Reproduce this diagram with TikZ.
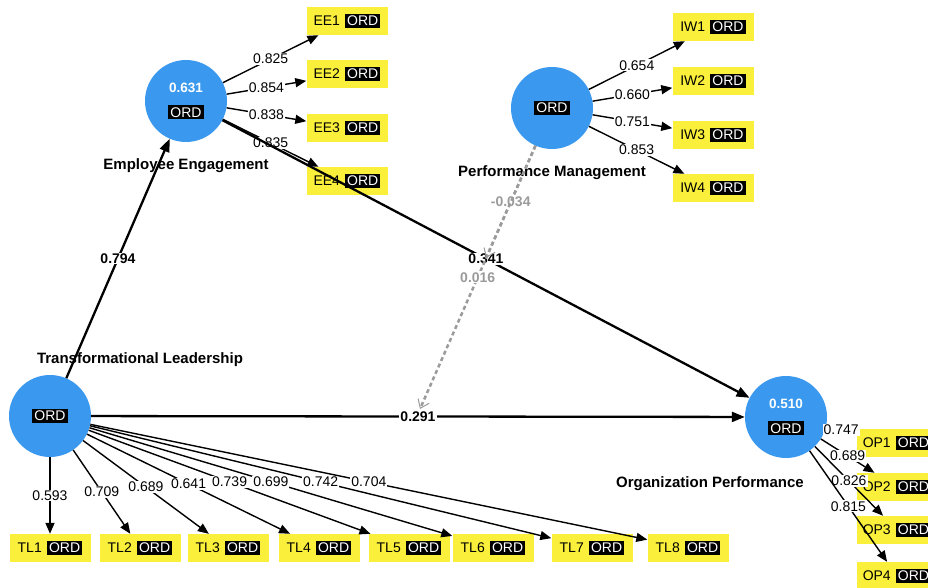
\documentclass[tikz,border=0pt]{standalone}
\usepackage{fontspec}
\setmainfont{Liberation Sans}
\usepackage{xcolor}
\usetikzlibrary{arrows.meta}
\definecolor{plsblue}{RGB}{58, 153, 238}
\definecolor{plsyellow}{RGB}{250, 240, 60}
\definecolor{modgrey}{RGB}{155, 155, 155}
\newcommand{\ordtag}{{\normalfont\fontsize{14}{14}\selectfont\setlength{\fboxsep}{2.2pt}\colorbox{black}{\textcolor{white}{ORD}}}}

\begin{document}
\begin{tikzpicture}[
    x=1pt, y=-1pt,
    font=\fontsize{14}{16}\selectfont,
    construct/.style={circle, fill=plsblue, minimum size=82pt, inner sep=0pt,
        align=center, text=white, font=\fontsize{13.5}{22}\selectfont\bfseries},
    indicator/.style={fill=plsyellow, minimum width=81pt, minimum height=28pt, inner sep=0pt},
    cname/.style={font=\fontsize{15}{17}\selectfont\bfseries},
    struct/.style={line width=2.3pt, -{Triangle[length=13pt, width=10pt]}},
    ind/.style={line width=1.4pt, -{Triangle[length=11pt, width=9pt]}},
    % Style for the dashed moderating effects
    modpath/.style={modgrey, line width=2.5pt, dash pattern=on 4pt off 3pt,
        -{Straight Barb[length=8pt, width=12pt, line width=1pt]}},
    coef/.style={fill=white, inner sep=1pt, font=\fontsize{14}{14}\selectfont\bfseries},
    load/.style={fill=white, inner sep=1pt},
    modcoef/.style={fill=white, inner sep=1pt, text=modgrey, font=\fontsize{14}{14}\selectfont\bfseries}
]
    \clip (0,0) rectangle (928,588);
    \fill[white] (0,0) rectangle (928,588);

    % Constructs
    \node[construct] (ee) at (186,101) {0.631\\[3pt]\ordtag};
    \node[construct] (pm) at (552,108) {\ordtag};
    \node[construct] (tl) at (50,416) {\ordtag};
    \node[construct] (op) at (786,417) {0.510\\[3pt]\ordtag};

    \node[cname] (eename) at (186,166) {Employee Engagement};
    \node[cname] (pmname) at (552,173) {Performance Management};
    \node[cname] (tlname) at (140,360) {Transformational Leadership};
    \node[cname] (opname) at (710,484) {Organization Performance};

    % Indicators
    \node[indicator] (ee1) at (347,21) {EE1\hspace{5pt}\ordtag};
    \node[indicator] (ee2) at (347,74) {EE2\hspace{5pt}\ordtag};
    \node[indicator] (ee3) at (347,128) {EE3\hspace{5pt}\ordtag};
    \node[indicator] (ee4) at (347,181) {EE4\hspace{5pt}\ordtag};

    \node[indicator] (iw1) at (713,27) {IW1\hspace{5pt}\ordtag};
    \node[indicator] (iw2) at (713,81) {IW2\hspace{5pt}\ordtag};
    \node[indicator] (iw3) at (713,135) {IW3\hspace{5pt}\ordtag};
    \node[indicator] (iw4) at (713,188) {IW4\hspace{5pt}\ordtag};

    \node[indicator] (tl1) at (50,548) {TL1\hspace{5pt}\ordtag};
    \node[indicator] (tl2) at (140,548) {TL2\hspace{5pt}\ordtag};
    \node[indicator] (tl3) at (228,548) {TL3\hspace{5pt}\ordtag};
    \node[indicator] (tl4) at (319,548) {TL4\hspace{5pt}\ordtag};
    \node[indicator] (tl5) at (409,548) {TL5\hspace{5pt}\ordtag};
    \node[indicator] (tl6) at (493,548) {TL6\hspace{5pt}\ordtag};
    \node[indicator] (tl7) at (592,548) {TL7\hspace{5pt}\ordtag};
    \node[indicator] (tl8) at (688,548) {TL8\hspace{5pt}\ordtag};

    \node[indicator] (op1) at (897,443) {OP1\hspace{5pt}\ordtag};
    \node[indicator] (op2) at (897,487) {OP2\hspace{5pt}\ordtag};
    \node[indicator] (op3) at (897,530) {OP3\hspace{5pt}\ordtag};
    \node[indicator] (op4) at (897,576) {OP4\hspace{5pt}\ordtag};

    % Outer loadings
    \draw[ind] (ee) -- (ee1) node[midway, load] {0.825};
    \draw[ind] (ee) -- (ee2) node[midway, load] {0.854};
    \draw[ind] (ee) -- (ee3) node[midway, load] {0.838};
    \draw[ind] (ee) -- (ee4) node[midway, load] {0.835};

    \draw[ind] (pm) -- (iw1) node[midway, load] {0.654};
    \draw[ind] (pm) -- (iw2) node[midway, load] {0.660};
    \draw[ind] (pm) -- (iw3) node[midway, load] {0.751};
    \draw[ind] (pm) -- (iw4) node[midway, load] {0.853};

    \draw[ind] (tl) -- (tl1) node[midway, load] {0.593};
    \draw[ind] (tl) -- (tl2) node[midway, load] {0.709};
    \draw[ind] (tl) -- (tl3) node[midway, load] {0.689};
    \draw[ind] (tl) -- (tl4) node[midway, load] {0.641};
    \draw[ind] (tl) -- (tl5) node[midway, load] {0.739};
    \draw[ind] (tl) -- (tl6) node[midway, load] {0.699};
    \draw[ind] (tl) -- (tl7) node[midway, load] {0.742};
    \draw[ind] (tl) -- (tl8) node[midway, load] {0.704};

    \draw[ind] (op) -- (op1) node[midway, load] {0.747};
    \draw[ind] (op) -- (op2) node[midway, load] {0.689};
    \draw[ind] (op) -- (op3) node[midway, load] {0.826};
    \draw[ind] (op) -- (op4) node[midway, load] {0.815};

    % Path coefficients
    \draw[struct] (tl) -- (ee) node[midway, coef] {0.794};
    \draw[struct] (ee) -- (op) node[midway, coef] {0.341};
    \draw[struct] (tl) -- (op) node[midway, coef] {0.291};

    % Moderating effects (ends on the two paths)
    \coordinate (modee) at (486,258);
    \coordinate (modtl) at (420,409);
    \draw[modpath] (pm) -- (modee) node[midway, modcoef] {-0.034};
    \draw[modpath] (pm) -- (modtl) node[midway, modcoef] {0.016};

\end{tikzpicture}
\end{document}
